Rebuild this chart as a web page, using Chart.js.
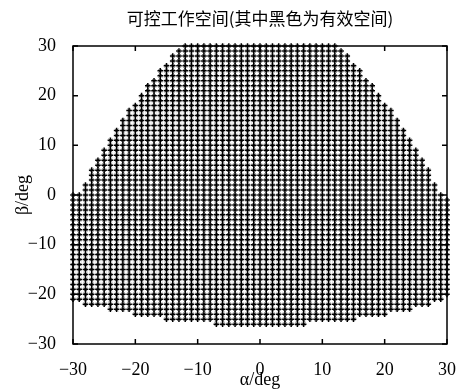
<!DOCTYPE html>
<html>
<head>
<meta charset="utf-8">
<script src="https://cdn.jsdelivr.net/npm/chart.js@4/dist/chart.umd.min.js"></script>
<style>
  body { margin: 0; background: #fff; }
</style>
</head>
<body>
<canvas id="chart" width="463" height="392"></canvas>
<script>
// 각 alpha 열마다 유효 beta 범위
var alphaVals = [-30,-29,-28,-27,-26,-25,-24,-23,-22,-21,-20,-19,-18,-17,-16,-15,-14,-13,-12,-11,-10,-9,-8,-7,-6,-5,-4,-3,-2,-1,0,1,2,3,4,5,6,7,8,9,10,11,12,13,14,15,16,17,18,19,20,21,22,23,24,25,26,27,28,29,30];
var betaTop = [0,0,2,5,7,9,11,13,15,17,18,20,22,23,25,26,28,29,30,30,30,30,30,30,30,30,30,30,30,30,30,30,30,30,30,30,30,30,30,30,30,30,30,29,28,26,25,23,22,20,18,17,15,13,11,9,7,5,2,0,-1];
var betaBottom = [-21,-21,-22,-22,-22,-22,-23,-23,-23,-23,-24,-24,-24,-24,-24,-25,-25,-25,-25,-25,-25,-25,-25,-26,-26,-26,-26,-26,-26,-26,-26,-26,-26,-26,-26,-26,-26,-26,-25,-25,-25,-25,-25,-25,-25,-25,-24,-24,-24,-24,-24,-23,-23,-23,-23,-22,-22,-22,-21,-21,-20];
var tickVals = [-30,-20,-10,0,10,20,30];

var points = [];
for (var i = 0; i < alphaVals.length; i++) {
    for (var b = betaBottom[i]; b <= betaTop[i]; b++) {
        points.push({x: alphaVals[i], y: b});
    }
}

function minus(v) {
    return v < 0 ? '\u2212' + Math.abs(v) : '' + v;
}

// 테두리 + 안쪽 눈금
var framePlugin = {
    id: 'frame',
    afterDraw: function (chart) {
        var ctx = chart.ctx;
        var a = chart.chartArea;
        var xs = chart.scales.x, ys = chart.scales.y;
        ctx.save();
        ctx.strokeStyle = '#000';
        ctx.lineWidth = 1.5;
        ctx.strokeRect(a.left, a.top, a.right - a.left, a.bottom - a.top);
        ctx.beginPath();
        tickVals.forEach(function (v) {
            var px = xs.getPixelForValue(v);
            ctx.moveTo(px, a.bottom); ctx.lineTo(px, a.bottom - 5);
            ctx.moveTo(px, a.top); ctx.lineTo(px, a.top + 5);
            var py = ys.getPixelForValue(v);
            ctx.moveTo(a.left, py); ctx.lineTo(a.left + 5, py);
            ctx.moveTo(a.right, py); ctx.lineTo(a.right - 5, py);
        });
        ctx.stroke();
        ctx.restore();
    }
};

var serif = 'Liberation Serif';

new Chart(document.getElementById('chart').getContext('2d'), {
    type: 'scatter',
    data: {
        datasets: [{
            data: points,
            pointStyle: 'cross',
            pointRadius: 2.8,
            pointBorderWidth: 1.5,
            borderColor: '#000',
            backgroundColor: '#000',
            clip: false
        }, {
            data: points,
            pointStyle: 'crossRot',
            pointRadius: 2.4,
            pointBorderWidth: 0.8,
            borderColor: '#333',
            backgroundColor: '#333',
            clip: false
        }]
    },
    options: {
        responsive: false,
        animation: false,
        layout: {padding: {left: 0, right: 12, top: 0, bottom: 0}},
        plugins: {
            legend: {display: false},
            tooltip: {enabled: false},
            title: {
                display: true,
                text: '可控工作空间(其中黑色为有效空间)',
                color: '#000',
                fullSize: false,
                font: {family: 'Noto Sans CJK SC', size: 17, weight: 'normal'},
                padding: {top: 8, bottom: 17.6}
            }
        },
        scales: {
            x: {
                type: 'linear',
                min: -30, max: 30,
                grid: {display: false},
                border: {display: false},
                ticks: {
                    stepSize: 10, color: '#000', padding: 7,
                    font: {family: serif, size: 18},
                    callback: function (v) { return minus(v); }
                },
                title: {
                    display: true, text: 'α/deg', color: '#000',
                    font: {family: serif, size: 18},
                    padding: {top: 0, bottom: 1}
                },
                afterFit: function (s) { s.height = 48; }
            },
            y: {
                type: 'linear',
                min: -30, max: 30,
                grid: {display: false},
                border: {display: false},
                ticks: {
                    stepSize: 10, color: '#000', padding: 9,
                    font: {family: serif, size: 18},
                    callback: function (v) { return minus(v); }
                },
                title: {
                    display: true, text: 'β/deg', color: '#000',
                    font: {family: serif, size: 18},
                    padding: {top: 12, bottom: 0}
                },
                afterFit: function (s) { s.width = 73; }
            }
        }
    },
    plugins: [framePlugin]
});
</script>
</body>
</html>
